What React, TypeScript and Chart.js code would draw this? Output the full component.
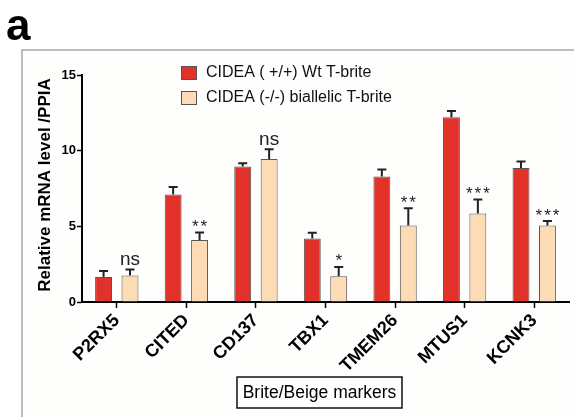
import React, { useEffect, useRef } from "react";
import { Chart, registerables } from "chart.js";

Chart.register(...registerables);

const categories = ["P2RX5", "CITED", "CD137", "TBX1", "TMEM26", "MTUS1", "KCNK3"];
const wtValues = [1.65, 7.1, 8.95, 4.2, 8.3, 12.2, 8.85];
const wtErrors = [0.4, 0.5, 0.22, 0.37, 0.45, 0.42, 0.44];
const koValues = [1.75, 4.1, 9.45, 1.7, 5.05, 5.85, 5.05];
const koErrors = [0.4, 0.5, 0.65, 0.62, 1.15, 0.92, 0.3];
const significance = ["ns", "**", "ns", "*", "**", "***", "***"];
const seriesLabels = ["CIDEA ( +/+) Wt T-brite", "CIDEA (-/-) biallelic T-brite"];
const yTicks = [0, 5, 10, 15];

const FONT = "'Liberation Sans', Arial, sans-serif";
const RED = "#e2302a";
const PEACH = "#fddbb5";

const decorPlugin = {
  id: "decor",
  beforeDraw(chart: any) {
    const ctx = chart.ctx;
    ctx.save();
    ctx.fillStyle = "#ffffff";
    ctx.fillRect(0, 0, chart.width, chart.height);
    ctx.fillStyle = "#fefefc";
    ctx.fillRect(22, 50, chart.width - 22, chart.height - 50);
    ctx.strokeStyle = "#a8a8a8";
    ctx.lineWidth = 1.5;
    ctx.beginPath();
    ctx.moveTo(22, chart.height);
    ctx.lineTo(22, 50);
    ctx.lineTo(chart.width, 50);
    ctx.stroke();
    ctx.fillStyle = "#000";
    ctx.font = `bold 44px ${FONT}`;
    ctx.textBaseline = "alphabetic";
    ctx.textAlign = "left";
    ctx.fillText("a", 6, 40);
    ctx.restore();
  },
  afterDraw(chart: any) {
    const ctx = chart.ctx;
    const yScale = chart.scales.y;
    const errs = [wtErrors, koErrors];
    ctx.save();
    // error bars
    chart.data.datasets.forEach((ds: any, di: number) => {
      const meta = chart.getDatasetMeta(di);
      meta.data.forEach((el: any, j: number) => {
        const v = ds.data[j];
        const top = yScale.getPixelForValue(v + errs[di][j]);
        ctx.strokeStyle = "#222";
        ctx.lineWidth = 2;
        ctx.beginPath();
        ctx.moveTo(el.x, el.y);
        ctx.lineTo(el.x, top);
        ctx.moveTo(el.x - 4.5, top);
        ctx.lineTo(el.x + 4.5, top);
        ctx.stroke();
        if (di === 1) {
          const s = significance[j];
          ctx.fillStyle = "#222";
          ctx.textAlign = "center";
          ctx.textBaseline = "alphabetic";
          if (s === "ns") {
            ctx.font = `19px ${FONT}`;
            ctx.fillText(s, el.x, top - 4);
          } else {
            ctx.font = `17px ${FONT}`;
            (ctx as any).letterSpacing = "2px";
            ctx.fillText(s, el.x + 1, top - 0.5);
            (ctx as any).letterSpacing = "0px";
          }
        }
      });
    });
    // legend
    const colors = [RED, PEACH];
    seriesLabels.forEach((lab, i) => {
      const by = 66 + i * 25;
      ctx.fillStyle = colors[i];
      ctx.fillRect(181, by, 16, 14);
      ctx.strokeStyle = "#555";
      ctx.lineWidth = 1;
      ctx.strokeRect(181.5, by + 0.5, 15, 13);
      ctx.fillStyle = "#111";
      ctx.font = `16px ${FONT}`;
      ctx.textAlign = "left";
      ctx.textBaseline = "middle";
      ctx.fillText(lab, 206, by + 7);
    });
    // y title
    ctx.save();
    ctx.translate(45, 185);
    ctx.rotate(-Math.PI / 2);
    ctx.font = `bold 17px ${FONT}`;
    ctx.fillStyle = "#000";
    ctx.textAlign = "center";
    ctx.textBaseline = "middle";
    ctx.fillText("Relative mRNA level /PPIA", 0, 0);
    ctx.restore();
    // x title box
    ctx.strokeStyle = "#111";
    ctx.lineWidth = 1.5;
    ctx.strokeRect(237, 377, 165, 31);
    ctx.fillStyle = "#000";
    ctx.font = `17.5px ${FONT}`;
    ctx.textAlign = "center";
    ctx.textBaseline = "middle";
    ctx.fillText("Brite/Beige markers", 319.5, 393);
    ctx.restore();
  },
};

export default function App() {
  const ref = useRef<HTMLCanvasElement | null>(null);
  useEffect(() => {
    if (!ref.current) return;
    const chart = new Chart(ref.current, {
      type: "bar",
      data: {
        labels: categories,
        datasets: [
          {
            label: seriesLabels[0],
            data: wtValues,
            backgroundColor: RED,
            borderColor: "#555",
            borderWidth: 1,
            categoryPercentage: 0.76,
            barPercentage: 0.64,
          },
          {
            label: seriesLabels[1],
            data: koValues,
            backgroundColor: PEACH,
            borderColor: "#555",
            borderWidth: 1,
            categoryPercentage: 0.76,
            barPercentage: 0.64,
          },
        ],
      },
      options: {
        responsive: false,
        animation: false,
        devicePixelRatio: 1,
        layout: { padding: { top: 75, right: 5, left: 0, bottom: 0 } },
        plugins: { legend: { display: false }, tooltip: { enabled: false } },
        scales: {
          x: {
            offset: true,
            grid: {
              offset: false,
              drawOnChartArea: false,
              drawTicks: true,
              tickLength: 6,
              tickColor: "#000",
              tickWidth: 1.5,
            },
            border: { color: "#000", width: 2 },
            ticks: {
              color: "#000",
              font: { family: FONT, size: 18, weight: "bold" },
              minRotation: 45,
              maxRotation: 45,
              padding: 2,
              autoSkip: false,
            },
            afterFit: (s: any) => {
              s.height = 115;
            },
          },
          y: {
            min: 0,
            max: 15,
            afterBuildTicks: (s: any) => {
              s.ticks = yTicks.map((v) => ({ value: v }));
            },
            grid: {
              drawOnChartArea: false,
              drawTicks: true,
              tickLength: 5,
              tickColor: "#000",
              tickWidth: 1.5,
            },
            border: { color: "#000", width: 2 },
            ticks: {
              color: "#000",
              font: { family: FONT, size: 13, weight: "bold" },
              padding: 1,
            },
            afterFit: (s: any) => {
              s.width = 82;
            },
          },
        },
      },
      plugins: [decorPlugin],
    } as any);
    return () => chart.destroy();
  }, []);
  return (
    <div style={{ position: "fixed", left: 0, top: 0, width: 574, height: 417 }}>
      <canvas ref={ref} width={574} height={417} style={{ width: 574, height: 417 }} />
    </div>
  );
}
